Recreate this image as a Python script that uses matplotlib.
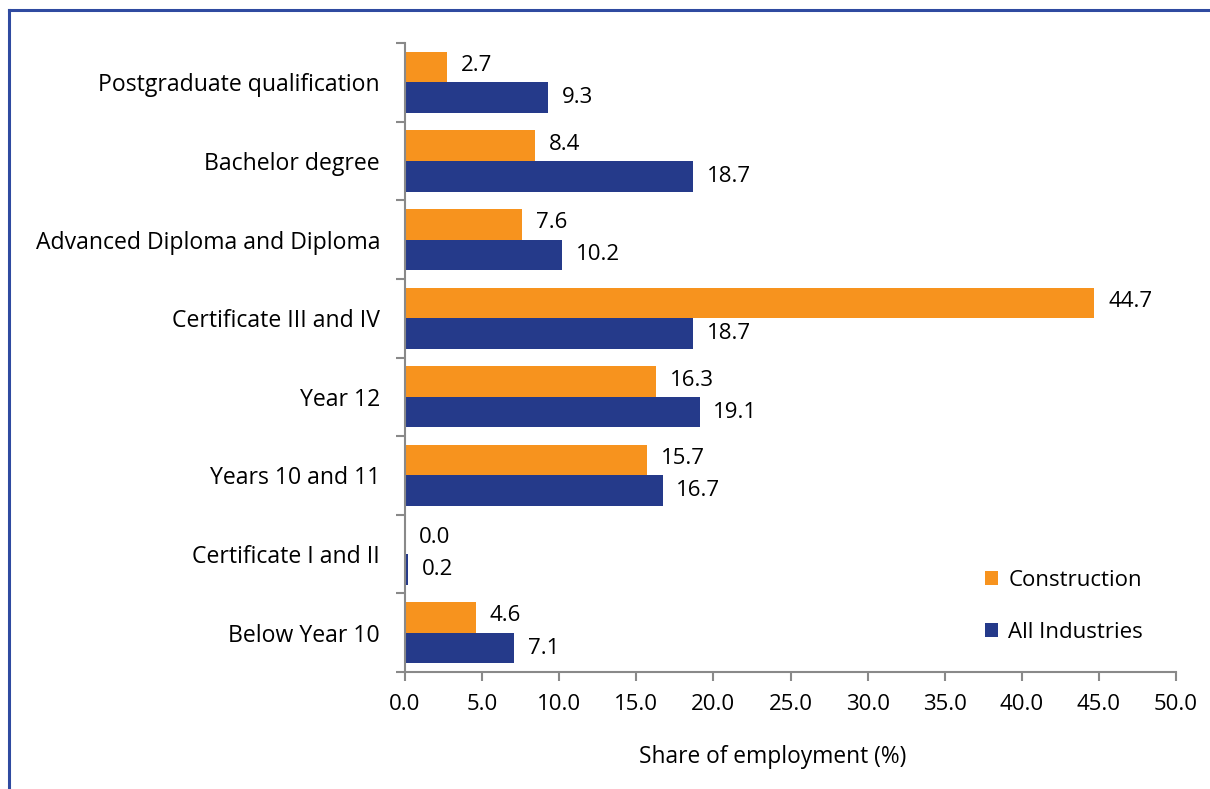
import matplotlib
matplotlib.use("Agg")
import matplotlib.pyplot as plt
from matplotlib.lines import Line2D
import numpy as np

categories = ["Postgraduate qualification", "Bachelor degree", "Advanced Diploma and Diploma",
              "Certificate III and IV", "Year 12", "Years 10 and 11",
              "Certificate I and II", "Below Year 10"]
construction = [2.7, 8.4, 7.6, 44.7, 16.3, 15.7, 0.0, 4.6]
all_industries = [9.3, 18.7, 10.2, 18.7, 19.1, 16.7, 0.2, 7.1]
xticks = [0, 5, 10, 15, 20, 25, 30, 35, 40, 45, 50]

ORANGE = "#F7931E"
NAVY = "#253A8A"
GRAY = "#898989"

plt.rcParams['font.family'] = ['Open Sans', 'DejaVu Sans']

W, H = 1210, 789
fig = plt.figure(figsize=(W/100, H/100), dpi=100)
ax_top, ax_bot = 43, 672
ax = fig.add_axes([405/W, 1-ax_bot/H, (1176-405)/W, (ax_bot-ax_top)/H])

n = len(categories)
y = np.arange(n)[::-1].astype(float)
h = 0.39
ax.barh(y + h/2, construction, height=h, color=ORANGE, label="Construction")
ax.barh(y - h/2, all_industries, height=h, color=NAVY, label="All Industries")

fs = 16
for yi, v in zip(y, construction):
    ax.annotate(f"{v:.1f}", (v, yi + h/2), xytext=(10, 1), textcoords="offset points",
                va="center", ha="left", fontsize=fs)
for yi, v in zip(y, all_industries):
    ax.annotate(f"{v:.1f}", (v, yi - h/2), xytext=(10, 0), textcoords="offset points",
                va="center", ha="left", fontsize=fs)

ax.set_xlim(0, 50)
ax.set_ylim(-0.5, n - 0.5)
ax.set_xticks(xticks)
ax.set_xticklabels([f"{t:.1f}" for t in xticks], fontsize=fs)
ax.set_yticks(y)
ax.set_yticklabels(categories, fontsize=16.6)
ax.tick_params(axis='y', length=0, pad=18)
ax.set_yticks(np.arange(n + 1) - 0.5, minor=True)
ax.tick_params(axis='y', which='minor', length=6.5, color=GRAY, width=1.5, direction='out')
ax.tick_params(axis='x', length=6.5, color=GRAY, width=1.5, direction='out', pad=9)
for s in ['top', 'right']:
    ax.spines[s].set_visible(False)
for s in ['left', 'bottom']:
    ax.spines[s].set_color(GRAY)
    ax.spines[s].set_linewidth(1.5)
ax.set_xlabel("Share of employment (%)", fontsize=16.4, va="center")
ax.xaxis.set_label_coords((773-405)/771, -(757-ax_bot)/(ax_bot-ax_top))

leg = ax.legend(loc="upper left", bbox_to_anchor=((976-405)/771, 1-(561-ax_top)/(ax_bot-ax_top)),
                frameon=False, fontsize=fs, borderaxespad=0,
                handlelength=0.6, handleheight=0.6, labelspacing=1.4, handletextpad=0.45)

# outer frame lines (top and left)
fig.add_artist(Line2D([9/W, 1], [1-10/H, 1-10/H], color="#2F4AA0", lw=2.2))
fig.add_artist(Line2D([9/W, 9/W], [0, 1-10/H], color="#2F4AA0", lw=2.2))

fig.savefig("out.png", dpi=100)
